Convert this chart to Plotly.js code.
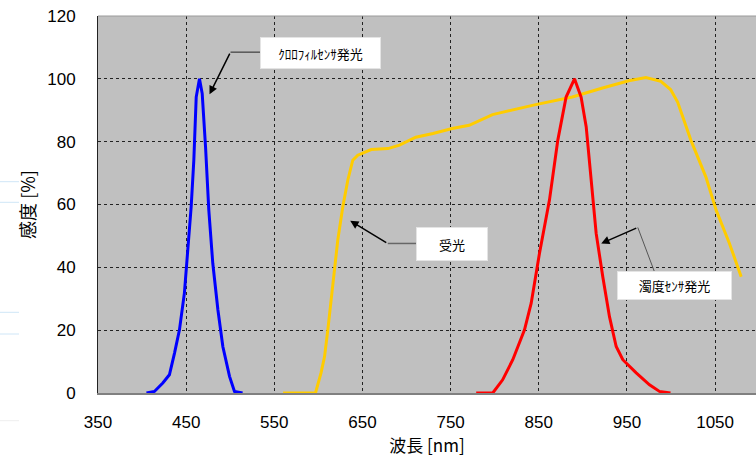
<!DOCTYPE html>
<html>
<head>
<meta charset="utf-8">
<script src="https://cdn.plot.ly/plotly-3.0.1.min.js"></script>
<style>html,body{margin:0;padding:0;background:#fff;}#chart{width:756px;height:457px;}</style>
</head>
<body>
<div id="chart"></div>
<script>
// Chlorophyll sensor emission (blue)
const blueX = [405, 414, 423.5, 431, 436.8, 442.4, 448, 451.9, 455.7, 458.7, 461.4, 465.1, 468.2, 472, 475.7, 480.2, 486, 491.6, 499.2, 504.8, 514];
const blueY = [0, 0.5, 3.2, 5.8, 12.7, 20.1, 31.8, 46.6, 59.3, 74.1, 94.2, 100, 95.3, 78.3, 58.2, 41.3, 26.5, 14.8, 5.3, 0.5, 0];
// Receiver sensitivity (yellow)
const yellowX = [560, 596.7, 603, 607, 610.7, 616.4, 622, 627.7, 633.4, 639, 644.7, 659.9, 679, 692, 710.5, 730, 751.8, 771, 797.5, 846.5, 888, 922.3, 952, 971.5, 988.5, 999.5, 1007.5, 1022.5, 1039.5, 1051.2, 1066.3, 1079.6];
const yellowY = [0, 0, 6.4, 11.6, 20.1, 34.9, 48.7, 59.3, 67.8, 74.1, 75.7, 77.5, 77.8, 78.9, 81.4, 82.6, 84.2, 85.2, 88.6, 91.8, 94.2, 97.1, 99.4, 100.4, 99.2, 96.6, 92.6, 80.5, 68.8, 58.2, 47.6, 37];
// Turbidity sensor emission (red)
const redX = [779, 797.8, 809, 820.5, 833.8, 841.4, 850.8, 862.1, 871.6, 881, 890.5, 898, 903.8, 909.4, 915.1, 922.6, 930.2, 937.8, 945.3, 960.5, 975.6, 986.9, 999.4];
const redY = [0, 0, 4.2, 10.6, 20.1, 28.6, 44.5, 61.4, 80.5, 94.2, 100, 94.2, 84.7, 68.8, 50.8, 37, 24.3, 14.8, 10.6, 6.4, 2.6, 0.5, 0];

const xTicks = [350, 450, 550, 650, 750, 850, 950, 1050];
const yTicks = [0, 20, 40, 60, 80, 100, 120];
const labels = ['ｸﾛﾛﾌｨﾙｾﾝｻ発光', '受光', '濁度ｾﾝｻ発光'];

const NUMFONT = '"Liberation Sans", Arial, "Noto Sans CJK JP", sans-serif';
const JPFONT = '"Noto Sans CJK JP", "Liberation Sans", sans-serif';

const traces = [
  {x: blueX, y: blueY, mode: 'lines', line: {color: '#0000ff', width: 3}, hoverinfo: 'skip'},
  {x: yellowX, y: yellowY, mode: 'lines', line: {color: '#ffcc00', width: 3}, hoverinfo: 'skip'},
  {x: redX, y: redY, mode: 'lines', line: {color: '#ff0000', width: 3}, hoverinfo: 'skip'}
];

function seg(x0, y0, x1, y1, color, w) {
  return {type: 'line', xref: 'x', yref: 'y', x0: x0, y0: y0, x1: x1, y1: y1, line: {color: color, width: w}, layer: 'above'};
}
function arrow(hx, hy, tx, ty) {
  return {x: hx, y: hy, ax: tx, ay: ty, xref: 'x', yref: 'y', axref: 'x', ayref: 'y', text: '', showarrow: true,
          arrowhead: 2, arrowsize: 1.1, arrowwidth: 1.5, arrowcolor: '#000'};
}
function box(cx, cy, txt, w, h) {
  return {x: cx, y: cy, xref: 'x', yref: 'y', text: txt, showarrow: false, bgcolor: '#ffffff',
          bordercolor: '#e4e4e4', borderwidth: 1, borderpad: 0, width: w, height: h,
          font: {family: JPFONT, size: 13, color: '#000'}, xanchor: 'center', yanchor: 'middle'};
}
function artifact(y, color) {
  return {type: 'line', xref: 'paper', yref: 'paper', x0: -98/658, x1: -79/658, y0: (393 - y) / 377, y1: (393 - y) / 377,
          line: {color: color, width: 1}};
}

const layout = {
  width: 756, height: 457,
  margin: {l: 98, r: 0, t: 16, b: 64, pad: 0},
  paper_bgcolor: '#ffffff',
  plot_bgcolor: '#c0c0c0',
  showlegend: false,
  xaxis: {
    range: [350, 1096.4], tickvals: xTicks, ticktext: xTicks.map(String),
    showgrid: true, gridcolor: '#222', griddash: 'dot', gridwidth: 1,
    showline: true, linecolor: '#808080', linewidth: 2, mirror: false,
    zeroline: false, ticks: '', ticklabelstandoff: 13,
    tickfont: {family: NUMFONT, size: 17, color: '#000'},
    title: {text: '波長 [nm]', font: {family: JPFONT, size: 17, color: '#000'}, standoff: 12}
  },
  yaxis: {
    range: [0, 120], tickvals: yTicks, ticktext: yTicks.map(String),
    showgrid: true, gridcolor: '#222', griddash: 'dot', gridwidth: 1,
    showline: true, linecolor: '#222', linewidth: 1,
    zeroline: false, ticks: '', ticklabelstandoff: 18,
    tickfont: {family: NUMFONT, size: 17, color: '#000'},
    title: {text: '感度 [%]', font: {family: JPFONT, size: 18, color: '#000'}, standoff: 6}
  },
  shapes: [
    {type: 'line', xref: 'paper', yref: 'paper', x0: 0, x1: 1, y0: 1, y1: 1, line: {color: '#9a9a9a', width: 1}},
    seg(540.8, 108.5, 500.3, 108.5, '#222', 1),
    seg(711, 47.6, 678.7, 47.6, '#666', 1.5),
    seg(962.3, 52.7, 981.2, 38.6, '#555', 1),
    artifact(181.7, '#cfe6f7'), artifact(202.3, '#cfe6f7'), artifact(312.3, '#cfe6f7'), artifact(334, '#cfe6f7'), artifact(420.7, '#eeeeee')
  ],
  annotations: [
    arrow(476.5, 95.1, 500.3, 108.5),
    arrow(636.1, 54.8, 678.7, 47.6),
    arrow(920.8, 47.6, 962.3, 52.7),
    box(602.6, 108.3, labels[0], 119, 30),
    box(751.5, 47.4, labels[1], 70, 32),
    box(1003.6, 34.2, labels[2], 113, 27)
  ]
};

Plotly.newPlot('chart', traces, layout, {displayModeBar: false, staticPlot: true});
</script>
</body>
</html>
